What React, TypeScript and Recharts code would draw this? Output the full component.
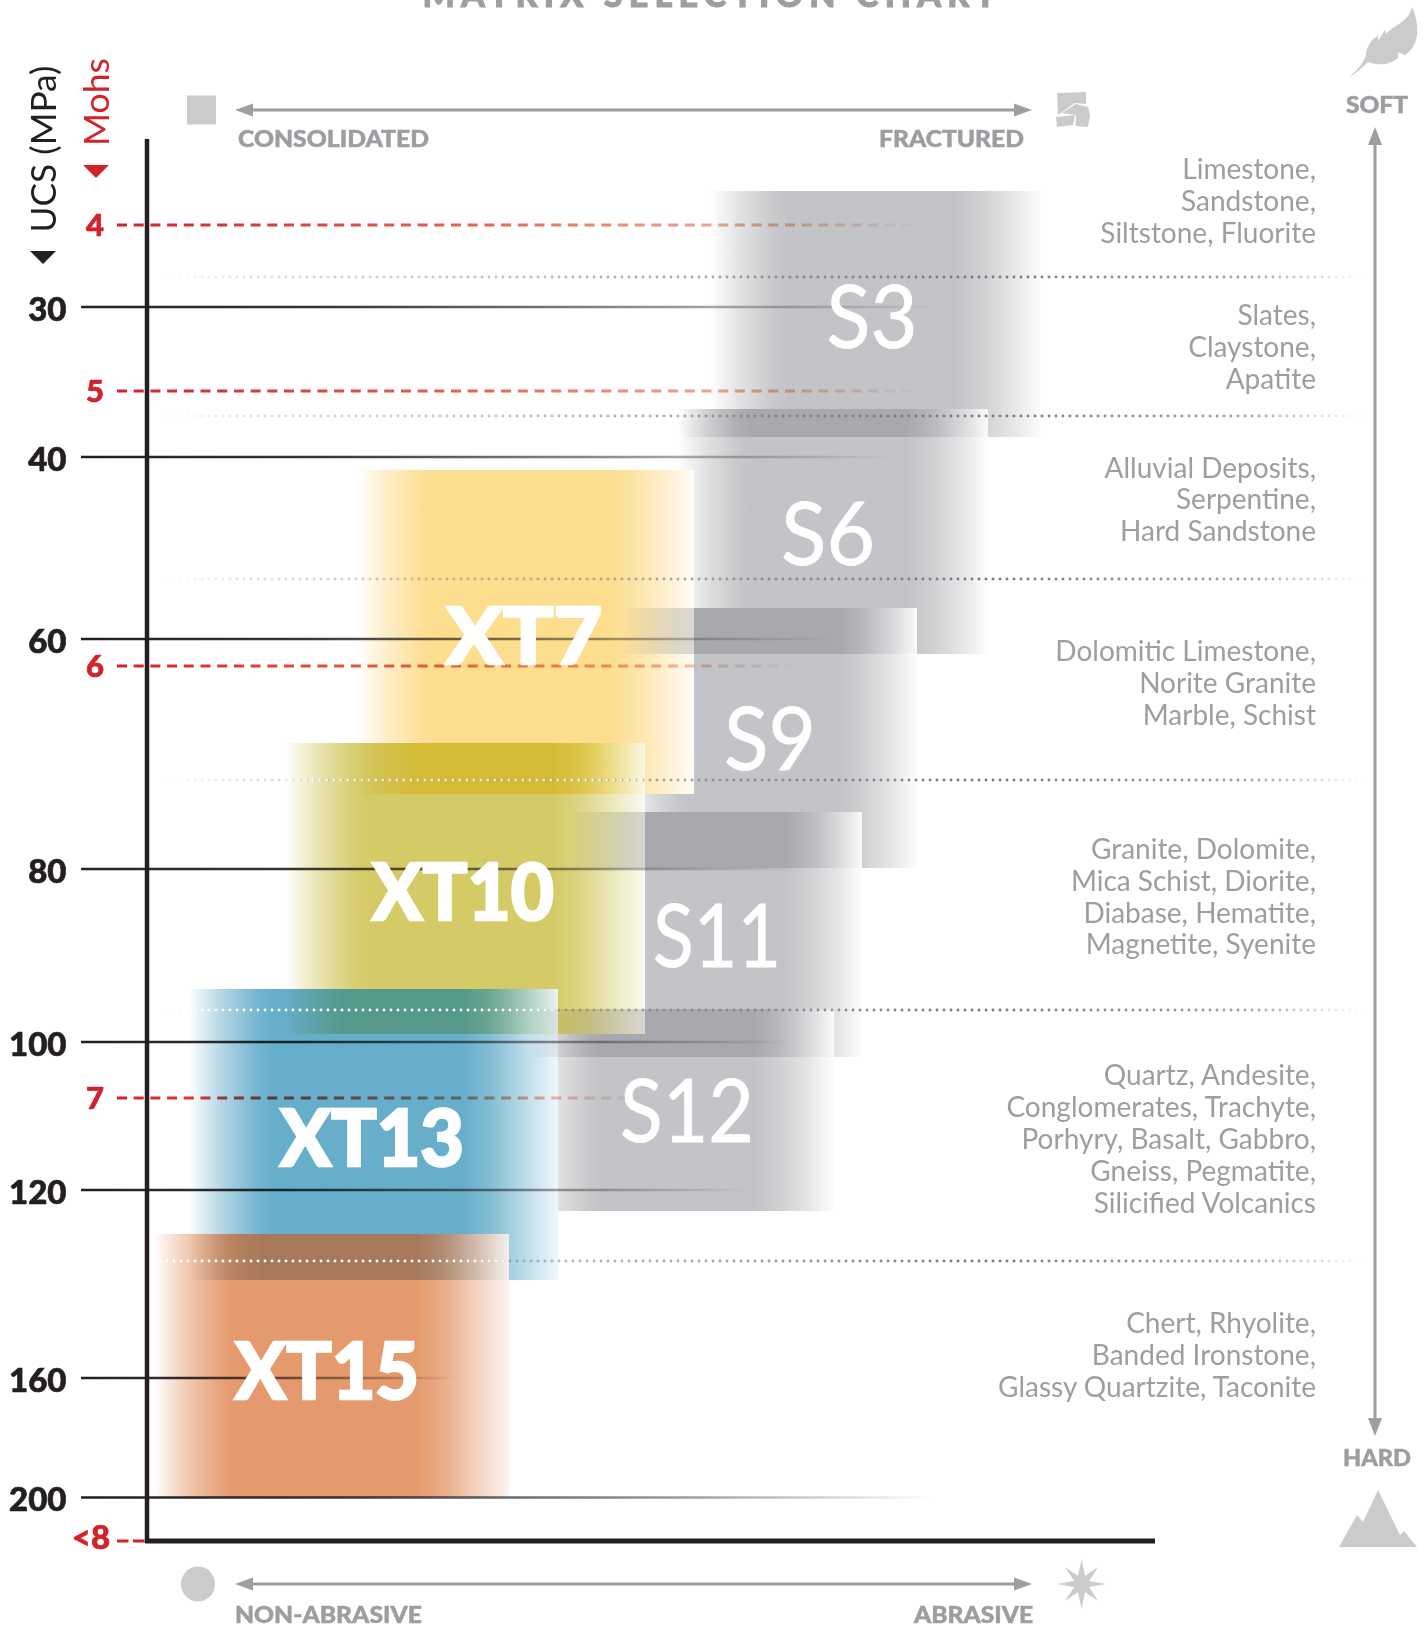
import React from 'react';
import { ComposedChart, XAxis, YAxis, ReferenceArea, ReferenceLine, Scatter } from 'recharts';

const GRAY_TEXT = '#9d9ea2';
const ICON = '#cbcbcd';
const INK = '#231f20';
const RED = '#d2232a';
const FONT = 'Lato, "Open Sans", sans-serif';

// block names / extents, in chart units (x: abrasiveness index, y: hardness depth)
const names = ['S3', 'S6', 'S9', 'S11', 'S12', 'XT7', 'XT10', 'XT13', 'XT15'];
const x1s = [56.4, 53.1, 47.3, 42.3, 38.3, 21.1, 13.9, 4.2, 0.7];
const x2s = [89.4, 84.1, 77.0, 71.5, 68.7, 54.7, 49.8, 41.1, 36.2];
const tops = [5.1, 26.9, 46.8, 67.2, 86.9, 33.0, 60.3, 84.9, 109.4];
const bottoms = [29.7, 51.4, 72.8, 91.7, 107.1, 65.4, 89.4, 114.0, 135.7];
const colors = ['#c3c4c7', '#c3c4c7', '#c3c4c7', '#c3c4c7', '#c3c4c7', '#fddd8e', '#d4ca66', '#67aecb', '#e59a6d'];
const labelXs = [72.5, 68.1, 62.3, 57.0, 54.0, 37.7, 31.6, 22.5, 18.0];
const labelYs = [20.8, 42.5, 63.0, 82.7, 100.2, 52.5, 78.1, 102.7, 126.0];
const labelWidths = [91, 94, 92, 128, 134, 156, 182, 184, 184];

// UCS axis
const ucsLabels = ['30', '40', '60', '80', '100', '120', '160', '200'];
const ucsYs = [16.7, 31.7, 49.9, 72.9, 90.2, 105.0, 123.8, 135.75];
const ucsEnds = [79.3, 74.5, 68.3, 65.3, 64.3, 60.0, 31.0, 78.8];

// Mohs axis
const mohsLabels = ['4', '5', '6', '7'];
const mohsYs = [8.5, 25.1, 52.6, 95.8];
const mohsEnds = [77.8, 77.8, 65.3, 49.8];
const mohsLast = '<8';
const mohsLastY = 140.1;

// dotted separators between rock groups
const separatorYs = [13.7, 27.6, 43.9, 64.0, 87.0, 112.1];

// rock names
const rockLines = [
  'Limestone,', 'Sandstone,', 'Siltstone, Fluorite',
  'Slates,', 'Claystone,', 'Apatite',
  'Alluvial Deposits,', 'Serpentine,', 'Hard Sandstone',
  'Dolomitic Limestone,', 'Norite Granite', 'Marble, Schist',
  'Granite, Dolomite,', 'Mica Schist, Diorite,', 'Diabase, Hematite,', 'Magnetite, Syenite',
  'Quartz, Andesite,', 'Conglomerates, Trachyte,', 'Porhyry, Basalt, Gabbro,', 'Gneiss, Pegmatite,', 'Silicified Volcanics',
  'Chert, Rhyolite,', 'Banded Ironstone,', 'Glassy Quartzite, Taconite',
];
const rockYs = [
  3.9, 7.1, 10.3,
  18.5, 21.7, 24.9,
  33.8, 36.9, 40.1,
  52.1, 55.3, 58.5,
  71.9, 75.1, 78.3, 81.4,
  94.5, 97.7, 100.9, 104.1, 107.3,
  119.3, 122.5, 125.7,
];

const WIDTH = 1427;
const HEIGHT = 1627;
const X_DOMAIN = [-14.7, 128];
const Y_DOMAIN = [-14, 148.7];
const AXIS_X = 0;
const AXIS_BOTTOM = 140.1;
const AXIS_RIGHT = 100.8;
const ROCK_X = 116.9;
const TICK_START = -6.6;
const MOHS_START = -3;
const SEP_START = 1.3;
const SEP_END = 121.9;
const WHITE_DOT_13 = 4.1;

const px = (u: number) => (u - X_DOMAIN[0]) * (WIDTH / (X_DOMAIN[1] - X_DOMAIN[0]));

const hex = (c: string) => [1, 3, 5].map((i) => parseInt(c.slice(i, i + 2), 16));
const mix = (c: string, t: number) => {
  const [r, g, b] = hex(c);
  const f = (v: number) => Math.round(255 + (v - 255) * t);
  return `rgb(${f(r)},${f(g)},${f(b)})`;
};
const profile = (edge: number) => [
  [0, 0], [0.03, 0.18], [0.1, 0.55], [0.19, 0.92], [0.23, 1], [0.74, 1], [0.82, 0.8], [0.92, 0.4], [1, edge],
];

const blockAt = (i: number) => ({ x1: x1s[i], x2: x2s[i], top: tops[i], bottom: bottoms[i] });
const [s3, s6, s9, s11, s12, xt7, xt10, xt13, xt15] = names.map((_, i) => blockAt(i));

const GRAY_STRIP = '#dcdcdf';
// overlap strips: colour, x1, x2, y1, y2
const strips: [string, number, number, number, number][] = [
  ['#ffeb85', xt7.x1, xt10.x2, xt10.top, xt7.bottom],
  ['#d1e0b0', xt10.x1, xt13.x2, xt13.top, xt10.bottom],
  ['#bac9d3', xt13.x1, xt15.x2, xt15.top, xt13.bottom],
  [GRAY_STRIP, s6.x1, s6.x2, s6.top, s3.bottom],
  [GRAY_STRIP, s9.x1, s9.x2, s9.top, s6.bottom],
  [GRAY_STRIP, s11.x1, s11.x2, s11.top, s9.bottom],
  [GRAY_STRIP, s12.x1, s12.x2, s12.top, s11.bottom],
];

const tickData = ucsLabels.map((label, i) => ({ x: AXIS_X, y: ucsYs[i], label }));
const mohsData = mohsLabels.map((label, i) => ({ x: AXIS_X, y: mohsYs[i], label }));
const rockData = rockLines.map((label, i) => ({ x: ROCK_X, y: rockYs[i], label }));
const blockLabelData = names.map((label, i) => ({ x: labelXs[i], y: labelYs[i], label, w: labelWidths[i] }));

const multiply: React.CSSProperties = { mixBlendMode: 'multiply' };

const UcsTick = (p: any) => (
  <text x={66.5} y={p.cy + 13.5} textAnchor="end" fontFamily={FONT} fontWeight={900} fontSize={33} fill={INK} stroke={INK} strokeWidth={0.7}>{p.payload.label}</text>
);
const MohsTick = (p: any) => {
  const last = p.payload.label === mohsLast;
  return (
    <text x={last ? 91 : 95} y={p.cy + (last ? 7.5 : 10.5)} textAnchor="middle" fontFamily={FONT} fontWeight={900} fontSize={last ? 33 : 31} fill={RED} stroke={RED} strokeWidth={0.7}>{p.payload.label}</text>
  );
};
const RockLine = (p: any) => (
  <text x={p.cx} y={p.cy} textAnchor="end" fontFamily={FONT} fontWeight={400} fontSize={28} fill={GRAY_TEXT}>{p.payload.label}</text>
);
const BlockLabel = (p: any) => {
  const xt = p.payload.label.startsWith('XT');
  return (
    <text x={p.cx} y={p.cy - (xt ? 1 : 0)} textAnchor="middle" fontFamily={FONT} fontWeight={xt ? 900 : 400} fontSize={xt ? 78 : 88} fill="#fff"
      stroke="#fff" strokeWidth={xt ? 2.5 : 0.8} textLength={p.payload.w} lengthAdjust="spacingAndGlyphs">{p.payload.label}</text>
  );
};

const Caption = ({ x, y, w, anchor = 'start', children }: any) => (
  <text x={x} y={y} textAnchor={anchor} fontFamily={FONT} fontWeight={900} fontSize={23.5} fill={GRAY_TEXT} stroke={GRAY_TEXT} strokeWidth={0.5} textLength={w} lengthAdjust="spacingAndGlyphs">{children}</text>
);

const seg = (x1: number, y1: number, x2: number, y2: number) => [{ x: x1, y: y1 }, { x: x2, y: y2 }] as any;
const DOTS = { strokeWidth: 2.9, strokeDasharray: '0 7', strokeLinecap: 'round' } as const;

export default function App() {
  return (
    <div style={{ position: 'absolute', left: 0, top: 0, width: WIDTH, height: HEIGHT, overflow: 'hidden', background: '#fff' }}>
      <ComposedChart width={WIDTH} height={HEIGHT} margin={{ top: 0, right: 0, bottom: 0, left: 0 }}>
        <defs>
          {names.map((n, i) => (
            <linearGradient key={n} id={`block-${n}`} gradientUnits="userSpaceOnUse" x1={px(x1s[i])} x2={px(x2s[i])} y1={0} y2={0}>
              {profile(n.startsWith('S') ? 0.03 : 0.1).map(([o, t]) => <stop key={o} offset={o} stopColor={mix(colors[i], t)} />)}
            </linearGradient>
          ))}
          {strips.map(([c, a, b], i) => (
            <linearGradient key={i} id={`strip-${i}`} gradientUnits="userSpaceOnUse" x1={px(a)} x2={px(b)} y1={0} y2={0}>
              {profile(0.1).map(([o, t]) => <stop key={o} offset={o} stopColor={mix(c, t)} />)}
            </linearGradient>
          ))}
          {ucsLabels.map((n, i) => (
            <linearGradient key={n} id={`ucs-${n}`} gradientUnits="userSpaceOnUse" x1={px(TICK_START)} x2={px(ucsEnds[i])} y1={0} y2={0}>
              <stop offset={0} stopColor={INK} />
              <stop offset={0.3} stopColor={INK} stopOpacity={0.9} />
              <stop offset={0.7} stopColor={INK} stopOpacity={0.45} />
              <stop offset={1} stopColor={INK} stopOpacity={0} />
            </linearGradient>
          ))}
          {mohsLabels.map((n, i) => (
            <linearGradient key={n} id={`mohs-${n}`} gradientUnits="userSpaceOnUse" x1={px(MOHS_START)} x2={px(mohsEnds[i])} y1={0} y2={0}>
              <stop offset={0} stopColor={RED} />
              <stop offset={0.45} stopColor="#e4674e" />
              <stop offset={0.8} stopColor="#eea88d" stopOpacity={0.9} />
              <stop offset={1} stopColor="#eea88d" stopOpacity={0} />
            </linearGradient>
          ))}
          <linearGradient id="sep" gradientUnits="userSpaceOnUse" x1={px(SEP_START)} x2={px(SEP_END)} y1={0} y2={0}>
            <stop offset={0} stopColor="#77787c" stopOpacity={0} />
            <stop offset={0.08} stopColor="#77787c" stopOpacity={0.25} />
            <stop offset={0.45} stopColor="#77787c" stopOpacity={0.65} />
            <stop offset={0.68} stopColor="#77787c" stopOpacity={1} />
            <stop offset={0.9} stopColor="#77787c" stopOpacity={0.7} />
            <stop offset={1} stopColor="#77787c" stopOpacity={0} />
          </linearGradient>
        </defs>

        <XAxis type="number" dataKey="x" domain={X_DOMAIN} hide allowDataOverflow />
        <YAxis type="number" dataKey="y" domain={Y_DOMAIN} reversed hide allowDataOverflow />

        {names.map((n, i) => (
          <ReferenceArea key={n} x1={x1s[i]} x2={x2s[i]} y1={tops[i]} y2={bottoms[i]} fill={`url(#block-${n})`} fillOpacity={1} stroke="none" />
        ))}
        {strips.map(([, a, b, t, e], i) => (
          <ReferenceArea key={i} x1={a} x2={b} y1={t} y2={e} fill={`url(#strip-${i})`} fillOpacity={1} stroke="none" style={multiply} />
        ))}

        {separatorYs.map((y) => (
          <ReferenceLine key={y} segment={seg(SEP_START, y, SEP_END, y)} stroke="url(#sep)" {...DOTS} />
        ))}
        <ReferenceLine segment={seg(xt10.x1 - 0.1, separatorYs[3], xt10.x2, separatorYs[3])} stroke="#fff" {...DOTS} strokeOpacity={0.75} />
        <ReferenceLine segment={seg(WHITE_DOT_13, separatorYs[4], xt13.x2, separatorYs[4])} stroke="#fff" {...DOTS} />
        <ReferenceLine segment={seg(SEP_START, separatorYs[5], xt15.x2, separatorYs[5])} stroke="#fff" {...DOTS} />

        {ucsLabels.map((n, i) => (
          <ReferenceLine key={n} segment={seg(TICK_START, ucsYs[i], ucsEnds[i], ucsYs[i])} stroke={`url(#ucs-${n})`} strokeWidth={2.6} style={multiply} />
        ))}
        {mohsLabels.map((n, i) => (
          <ReferenceLine key={n} segment={seg(MOHS_START, mohsYs[i], mohsEnds[i], mohsYs[i])} stroke={`url(#mohs-${n})`} strokeWidth={3} strokeDasharray="10 6.7" style={multiply} />
        ))}
        <ReferenceLine segment={seg(MOHS_START, mohsLastY, AXIS_X, mohsLastY)} stroke={RED} strokeWidth={3} strokeDasharray="11.5 4.5" />

        <ReferenceLine segment={seg(AXIS_X, -0.1, AXIS_X, AXIS_BOTTOM + 0.2)} stroke={INK} strokeWidth={4.5} />
        <ReferenceLine segment={seg(AXIS_X - 0.2, AXIS_BOTTOM, AXIS_RIGHT, AXIS_BOTTOM)} stroke={INK} strokeWidth={5} />

        <Scatter data={tickData} shape={UcsTick} isAnimationActive={false} />
        <Scatter data={mohsData} shape={MohsTick} isAnimationActive={false} />
        <Scatter data={[{ x: AXIS_X, y: mohsLastY, label: mohsLast }]} shape={MohsTick} isAnimationActive={false} />
        <Scatter data={rockData} shape={RockLine} isAnimationActive={false} />
        <Scatter data={blockLabelData} shape={BlockLabel} isAnimationActive={false} />

        {/* title, captions */}
        <text x={709} y={6.5} textAnchor="middle" fontFamily={FONT} fontWeight={900} fontSize={34} fill={GRAY_TEXT} stroke={GRAY_TEXT} strokeWidth={1} textLength={573} lengthAdjust="spacing">MATRIX SELECTION CHART</text>
        <text transform="translate(56 232.5) rotate(-90)" fontFamily={FONT} fontWeight={400} fontSize={34} fill={INK} textLength={167} lengthAdjust="spacingAndGlyphs">UCS (MPa)</text>
        <text transform="translate(109 146) rotate(-90)" fontFamily={FONT} fontWeight={400} fontSize={34} fill={RED} textLength={88} lengthAdjust="spacingAndGlyphs">Mohs</text>
        <polygon points="30,251 56,251 43,264" fill={INK} />
        <polygon points="83,165 109,165 96,178" fill={RED} />

        <Caption x={238} y={147} w={191}>CONSOLIDATED</Caption>
        <Caption x={879} y={147} w={145}>FRACTURED</Caption>
        <Caption x={235} y={1623} w={187}>NON-ABRASIVE</Caption>
        <Caption x={914} y={1623} w={119}>ABRASIVE</Caption>
        <Caption x={1377} y={113} w={62} anchor="middle">SOFT</Caption>
        <Caption x={1377} y={1466} w={68} anchor="middle">HARD</Caption>

        {/* direction arrows */}
        <g fill={GRAY_TEXT}>
          <rect x={245} y={108.5} width={778} height={3} />
          <polygon points="235,110 253,103.5 253,116.5" />
          <polygon points="1032,110 1014,103.5 1014,116.5" />
          <rect x={245} y={1582.5} width={778} height={3} />
          <polygon points="235,1584 253,1577.5 253,1590.5" />
          <polygon points="1032,1584 1014,1577.5 1014,1590.5" />
          <rect x={1373.5} y={135} width={3} height={1292} />
          <polygon points="1375,127 1368,145 1382,145" />
          <polygon points="1375,1436 1368,1418 1382,1418" />
        </g>

        {/* icons */}
        <g fill={ICON}>
          <rect x={187} y={95.5} width={29} height={29} />
          <polygon points="1057,93 1086,92 1086,104 1075,103 1058,115" />
          <polygon points="1076,104 1088,107 1090,115 1088,127 1075.5,126 1076,115 1062,113" />
          <polygon points="1056,117 1075,115 1073,125 1057,127" />
          <ellipse cx={198} cy={1584} rx={17} ry={17.5} />
          <polygon points="1081.7,1559 1085,1576 1098,1567 1089,1581 1106,1584 1089,1587 1098,1601 1085,1592 1081.7,1609 1078,1592 1065,1601 1074,1587 1057,1584 1074,1581 1065,1567 1078,1576" />
          <polygon points="1339,1547 1357,1515 1363,1522 1378,1490 1400,1535 1404,1531 1417,1547" />
          <path d="M1348 78 C1358 70 1364 62 1366 55 C1366 48 1372 38 1378 36 L1378 41 L1385 30 L1386 34 C1395 25 1410 20 1412 7 C1420 25 1420 45 1405 55 L1398 52 L1398 58 C1390 65 1378 66 1368 62 C1362 68 1355 74 1348 78 Z" />
        </g>
      </ComposedChart>
    </div>
  );
}
